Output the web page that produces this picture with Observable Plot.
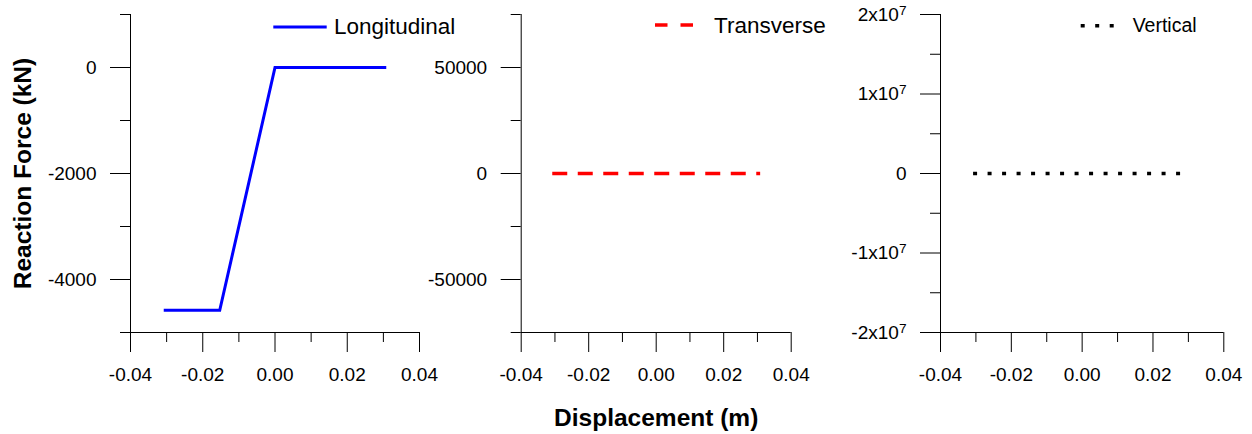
<!DOCTYPE html>
<html>
<head>
<meta charset="utf-8">
<script src="https://cdn.jsdelivr.net/npm/d3@7"></script>
<script src="https://cdn.jsdelivr.net/npm/@observablehq/plot@0.6"></script>
<style>
  body { margin: 0; background: #fff; }
  #wrap { position: relative; width: 1252px; height: 434px; font-family: "Liberation Sans", Arial, sans-serif; }
  .panel { position: absolute; top: 0; }
  #legend { position: absolute; left: 0; top: 0; pointer-events: none; }
</style>
</head>
<body>
<div id="wrap"></div>
<script>
// ---- data ----
const xMajorTicks = [-0.04, -0.02, 0, 0.02, 0.04];
const xMinorTicks = [-0.03, -0.01, 0.01, 0.03];

const longDisp  = [-0.0308, -0.0153, 0, 0.0308];
const longForce = [-4580, -4580, 0, 0];
const transDisp  = [-0.0308, -0.0153, 0, 0.0308];
const transForce = [0, 0, 0, 0];
const vertDisp  = [-0.0308, -0.0153, 0, 0.0280];
const vertForce = [0, 0, 0, 0];

const longYDomain = [-5000, 1000];
const longYMajor = [-4000, -2000, 0];
const longYMinor = [-5000, -3000, -1000, 1000];
const transYDomain = [-75000, 75000];
const transYMajor = [-50000, 0, 50000];
const transYMinor = [-75000, -25000, 25000, 75000];
const vertYDomain = [-2e7, 2e7];
const vertYMajor = [-2e7, -1e7, 0, 1e7, 2e7];
const vertYMinor = [-1.5e7, -0.5e7, 0.5e7, 1.5e7];

const seriesNames = ["Longitudinal", "Transverse", "Vertical"];
const xTitle = "Displacement (m)";
const yTitle = "Reaction Force (kN)";

const FONT = '"Liberation Sans", Arial, sans-serif';
const wrap = document.getElementById("wrap");

function panel({left, width, marginLeft, marginRight, xs, ys, yDomain, yMajor, yMinor, yFormat, stroke, strokeWidth, dash, extra = []}) {
  const rows = xs.map((x, i) => ({x, y: ys[i]}));
  const svg = Plot.plot({
    width, height: 434,
    marginTop: 14, marginBottom: 102, marginLeft, marginRight,
    x: {domain: [-0.04, 0.04]},
    y: {domain: yDomain},
    style: {fontFamily: FONT, fontSize: "19px", color: "black", background: "transparent", overflow: "visible"},
    marks: [
      Plot.ruleX([-0.04], {stroke: "black", strokeWidth: 1}),
      Plot.ruleY([yDomain[0]], {stroke: "black", strokeWidth: 1}),
      Plot.axisX(xMajorTicks, {tickSize: 20, tickPadding: 15, tickFormat: d => d.toFixed(2), label: null}),
      Plot.axisX(xMinorTicks, {tickSize: 10, tickFormat: () => "", label: null}),
      Plot.axisY(yMajor, {tickSize: 20, tickPadding: 14, tickFormat: yFormat, label: null}),
      Plot.axisY(yMinor, {tickSize: 10, tickFormat: () => "", label: null}),
      Plot.line(rows, {x: "x", y: "y", stroke, strokeWidth, strokeDasharray: dash,
        strokeLinecap: "butt", strokeLinejoin: "miter", strokeMiterlimit: 4}),
      ...extra
    ]
  });
  const div = document.createElement("div");
  div.className = "panel";
  div.style.left = left + "px";
  div.appendChild(svg);
  wrap.appendChild(div);
  return svg;
}

panel({
  left: 0, width: 430, marginLeft: 130, marginRight: 11,
  xs: longDisp, ys: longForce, yDomain: longYDomain, yMajor: longYMajor, yMinor: longYMinor,
  yFormat: d => String(d), stroke: "#0000ff", strokeWidth: 3, dash: null,
  extra: [
    Plot.text([yTitle], {text: d => d, frameAnchor: "left", dx: -107, rotate: -90,
      textAnchor: "middle", lineAnchor: "middle",
      fontSize: 24.5, fontWeight: "bold", fill: "black"})
  ]
});

panel({
  left: 430, width: 420, marginLeft: 90.7, marginRight: 59.3,
  xs: transDisp, ys: transForce, yDomain: transYDomain, yMajor: transYMajor, yMinor: transYMinor,
  yFormat: d => String(d), stroke: "#ff0000", strokeWidth: 3.3, dash: "15,10.5",
  extra: [
    Plot.text([xTitle], {text: d => d, frameAnchor: "bottom", dy: 86,
      textAnchor: "middle", lineAnchor: "middle",
      fontSize: 24.5, fontWeight: "bold", fill: "black"})
  ]
});

const svg3 = panel({
  left: 850, width: 402, marginLeft: 90, marginRight: 28.7,
  xs: vertDisp, ys: vertForce, yDomain: vertYDomain, yMajor: vertYMajor, yMinor: vertYMinor,
  yFormat: d => d === 0 ? "0" : `${d / 1e7}x10^7`, stroke: "black", strokeWidth: 3.5, dash: "4,10.5"
});

// superscript exponents on the vertical panel's tick labels
const NS = "http://www.w3.org/2000/svg";
svg3.querySelectorAll("text").forEach(t => {
  const s = t.textContent;
  if (!s.includes("^")) return;
  const [base, exp] = s.split("^");
  t.textContent = "";
  const a = document.createElementNS(NS, "tspan");
  a.textContent = base;
  const b = document.createElementNS(NS, "tspan");
  b.textContent = exp;
  b.setAttribute("dy", "-0.42em");
  b.setAttribute("font-size", "0.72em");
  t.append(a, b);
});

// ---- legends ----
const lg = d3.select(wrap).append("svg").attr("id", "legend")
  .attr("width", 1252).attr("height", 434)
  .style("font-family", FONT);
const legends = [
  {name: seriesNames[0], x1: 273.3, x2: 326.7, y: 27, stroke: "#0000ff", w: 3, dash: null, tx: 334, ty: 34.3, fs: 22.5},
  {name: seriesNames[1], x1: 655, x2: 694, y: 25, stroke: "#ff0000", w: 3.3, dash: "12.5,13", tx: 714, ty: 32.5, fs: 22.5},
  {name: seriesNames[2], x1: 1080.7, x2: 1114, y: 25.7, stroke: "black", w: 3.5, dash: "4,10.5", tx: 1132.7, ty: 32.3, fs: 19.5}
];
for (const l of legends) {
  lg.append("line").attr("x1", l.x1).attr("x2", l.x2).attr("y1", l.y).attr("y2", l.y)
    .attr("stroke", l.stroke).attr("stroke-width", l.w)
    .attr("stroke-dasharray", l.dash).attr("stroke-linecap", "butt");
  lg.append("text").attr("x", l.tx).attr("y", l.ty).attr("font-size", l.fs)
    .attr("fill", "black").text(l.name);
}
</script>
</body>
</html>
